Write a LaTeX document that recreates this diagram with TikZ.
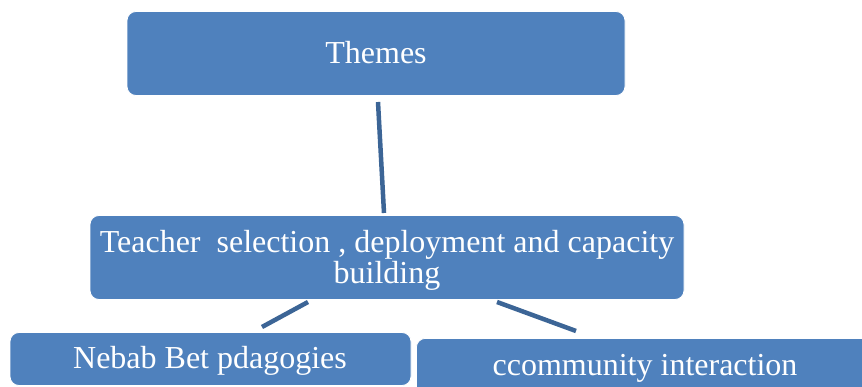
\documentclass[tikz,border=0pt]{standalone}
\usepackage{fontspec}
\setmainfont{Liberation Serif}
\definecolor{boxblue}{HTML}{4F81BD}
\definecolor{linkblue}{HTML}{3C6596}
\begin{document}
\begin{tikzpicture}[x=1pt,y=-1pt,
  box/.style={rounded corners=9pt, fill=boxblue, draw=white, line width=0.8pt, inner sep=0pt},
  label/.style={text=white, inner sep=0pt, font=\fontsize{32}{31}\selectfont},
  link/.style={draw=linkblue, line width=4.5pt}]
  \clip (0,0) rectangle (862,387);
  % boxes
  \node[box, minimum width=498pt, minimum height=84pt] (themes) at (376,53.5) {};
  \node[box, minimum width=594pt, minimum height=84pt] (teacher) at (387,257.5) {};
  \node[box, minimum width=401pt, minimum height=53pt] (nebab) at (210.5,359) {};
  \node[box, minimum width=464pt, minimum height=64pt, anchor=north west] (comm) at (416,338) {};
  % texts
  \node[label] (themestext) at (376,52.5) {Themes};
  \node[label, align=center] (teachertext) at (387,260.5)
    {Teacher\ \ selection , deployment and capacity\\building};
  \node[label] (nebabtext) at (210,361) {Nebab Bet pdagogies};
  \node[label] (commtext) at (645,368) {ccommunity interaction};
  % connector end points
  \coordinate (t1) at (378,102);
  \coordinate (t2) at (384,213);
  \coordinate (l1) at (308,302);
  \coordinate (l2) at (262,327);
  \coordinate (r1) at (497,302);
  \coordinate (r2) at (576,331);
  \draw[link] (t1) -- (t2);
  \draw[link] (l1) -- (l2);
  \draw[link] (r1) -- (r2);
\end{tikzpicture}
\end{document}
